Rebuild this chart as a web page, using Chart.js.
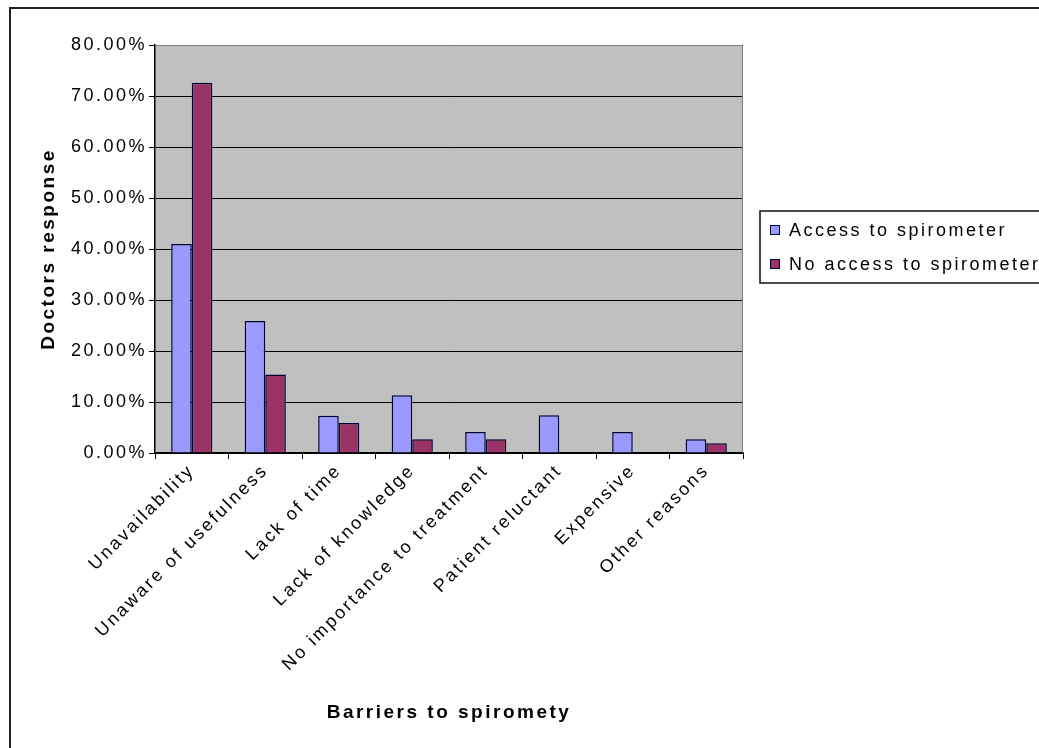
<!DOCTYPE html>
<html>
<head>
<meta charset="utf-8">
<script src="https://cdn.jsdelivr.net/npm/chart.js@4.4.0/dist/chart.umd.min.js"></script>
<style>
  html, body { margin: 0; padding: 0; background: #fff; }
  #wrap { width: 1039px; height: 748px; position: relative; }
</style>
</head>
<body>
<div id="wrap"><canvas id="chart"></canvas></div>
<script>
// barriers to spirometry, share of doctors (0..1)
const categories = [
  'Unavailability', 'Unaware of usefulness', 'Lack of time', 'Lack of knowledge',
  'No importance to treatment', 'Patient reluctant', 'Expensive', 'Other reasons'
];
const accessValues   = [0.410, 0.259, 0.073, 0.113, 0.041, 0.074, 0.041, 0.027];
const noAccessValues = [0.726, 0.154, 0.059, 0.027, 0.027, 0, 0, 0.019];
const seriesNames = ['Access to spirometer', 'No access to spirometer'];
const yTicks = [0, 0.1, 0.2, 0.3, 0.4, 0.5, 0.6, 0.7, 0.8];

const FONT = "'Liberation Sans', Arial, sans-serif";
const SPACING = '2.5px';

// Excel-ish wide letter spacing on the whole canvas
const spacingPlugin = {
  id: 'spacing',
  beforeUpdate(chart) { chart.ctx.letterSpacing = SPACING; },
  beforeDraw(chart) { chart.ctx.letterSpacing = SPACING; }
};

// white page, outer frame, grey plot fill
const framePlugin = {
  id: 'frame',
  beforeDraw(chart) {
    const { ctx, chartArea: a } = chart;
    ctx.save();
    ctx.fillStyle = '#fff';
    ctx.fillRect(0, 0, chart.width, chart.height);
    ctx.strokeStyle = '#222';
    ctx.lineWidth = 2;
    ctx.strokeRect(10, 8, 1200, 900);
    ctx.fillStyle = '#C0C0C0';
    ctx.fillRect(a.left, a.top, a.right - a.left, a.bottom - a.top);
    ctx.restore();
  },
  afterDatasetsDraw(chart) {
    const { ctx, chartArea: a } = chart;
    ctx.save();
    ctx.strokeStyle = '#808080';
    ctx.lineWidth = 1;
    ctx.beginPath();
    ctx.moveTo(a.left, a.top + 0.5);
    ctx.lineTo(a.right - 0.5, a.top + 0.5);
    ctx.lineTo(a.right - 0.5, a.bottom);
    ctx.stroke();
    ctx.restore();
  }
};

// boxed legend at the right, partly running off the frame
const legendPlugin = {
  id: 'boxLegend',
  afterDraw(chart) {
    const ctx = chart.ctx;
    const x = 760, y = 211, w = 300, h = 72;
    ctx.save();
    ctx.letterSpacing = SPACING;
    ctx.fillStyle = '#fff';
    ctx.fillRect(x, y, w, h);
    ctx.strokeStyle = '#111';
    ctx.lineWidth = 1.5;
    ctx.strokeRect(x, y, w, h);
    ctx.font = '18px ' + FONT;
    ctx.textBaseline = 'middle';
    chart.data.datasets.forEach((ds, i) => {
      const cy = y + 19 + i * 34;
      ctx.fillStyle = ds.backgroundColor;
      ctx.fillRect(x + 10, cy - 5, 10, 10);
      ctx.strokeStyle = '#000033';
      ctx.lineWidth = 1;
      ctx.strokeRect(x + 10.5, cy - 4.5, 9, 9);
      ctx.fillStyle = '#000';
      ctx.fillText(ds.label, x + 29, cy + 1);
    });
    ctx.restore();
  }
};

new Chart(document.getElementById('chart'), {
  type: 'bar',
  data: {
    labels: categories,
    datasets: [
      { label: seriesNames[0], data: accessValues, backgroundColor: '#9999FF', borderColor: '#000033', borderWidth: 1.5 },
      { label: seriesNames[1], data: noAccessValues, backgroundColor: '#993366', borderColor: '#000033', borderWidth: 1.5 }
    ]
  },
  options: {
    responsive: true,
    maintainAspectRatio: false,
    animation: false,
    categoryPercentage: 0.56,
    barPercentage: 1,
    layout: { padding: { left: 20, top: 45, right: 296, bottom: 12 } },
    plugins: { legend: { display: false }, tooltip: { enabled: false } },
    scales: {
      x: {
        grid: { display: true, offset: true, drawOnChartArea: false, color: '#000', tickLength: 6 },
        border: { color: '#000', width: 1.5 },
        ticks: { color: '#000', font: { family: FONT, size: 18 }, minRotation: 45, maxRotation: 45, padding: 1 },
        title: { display: true, text: 'Barriers to spiromety', color: '#000', font: { family: FONT, size: 19, weight: 'bold' }, padding: { top: 0, bottom: 12 } },
        afterFit(scale) { scale.height = 748 - 453 - 12; }
      },
      y: {
        min: 0,
        max: 0.8,
        afterBuildTicks(scale) { scale.ticks = yTicks.map(v => ({ value: v })); },
        grid: { color: '#000', lineWidth: 1, tickLength: 6 },
        border: { color: '#000', width: 1.5 },
        ticks: { color: '#000', font: { family: FONT, size: 18 }, padding: 2, callback: v => (v * 100).toFixed(2) + '%' },
        title: { display: true, text: 'Doctors response', color: '#000', font: { family: FONT, size: 19, weight: 'bold' }, padding: { top: 17, bottom: 0 } },
        afterFit(scale) { scale.width = 155 - 20; }
      }
    }
  },
  plugins: [spacingPlugin, framePlugin, legendPlugin]
});
</script>
</body>
</html>
